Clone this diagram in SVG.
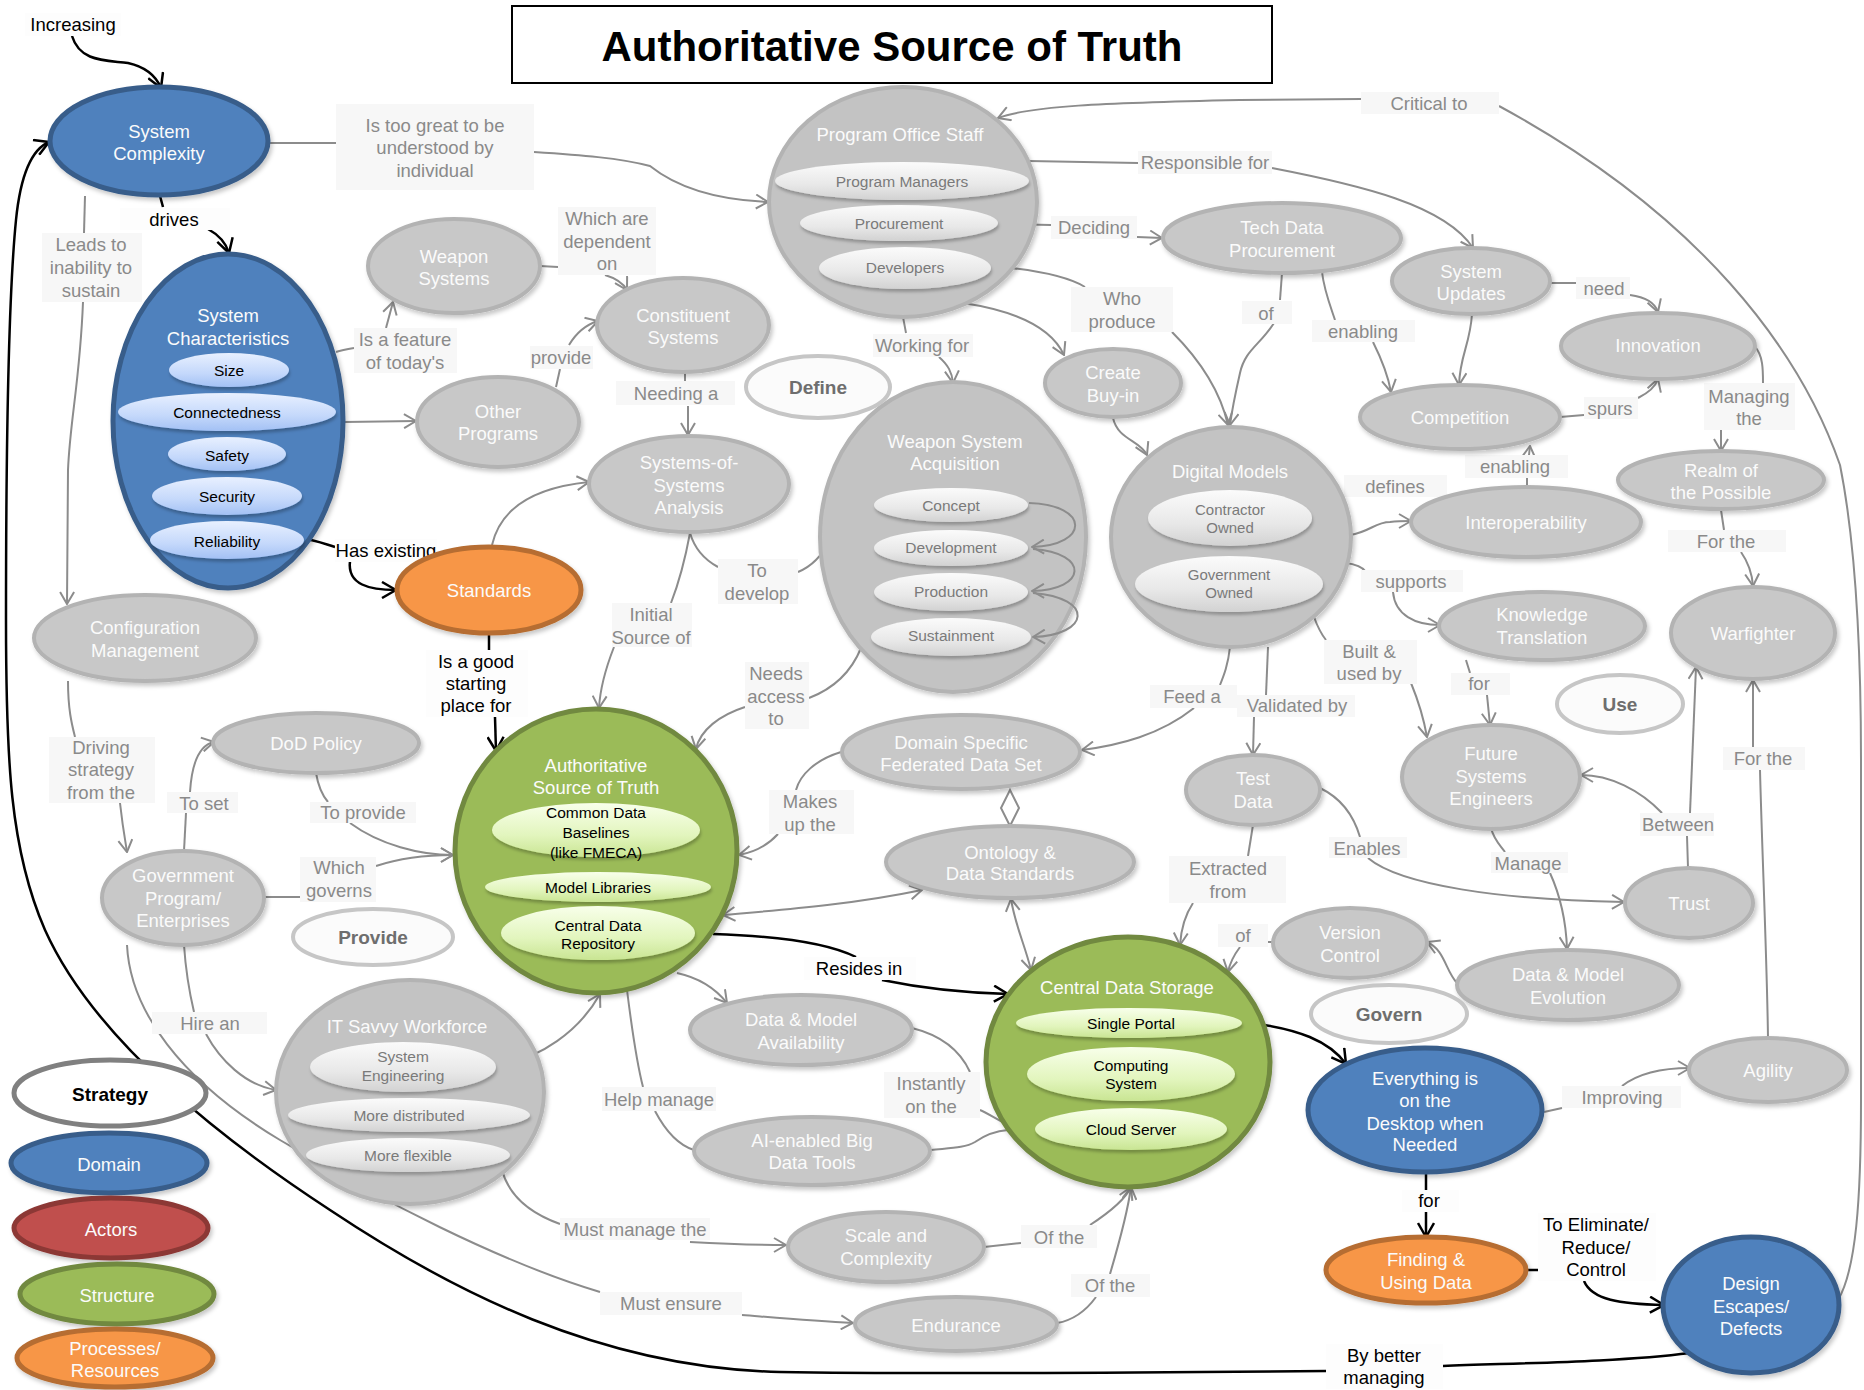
<svg xmlns="http://www.w3.org/2000/svg" width="1864" height="1390" viewBox="0 0 1864 1390">
<defs>
<style>
text{font-family:"Liberation Sans",Arial,sans-serif;text-anchor:middle;dominant-baseline:central}
.nt{fill:#fbfbfb;font-size:18.5px}
.it{fill:#7a7a7a;font-size:15.5px}
.bt{fill:#000;font-size:15.5px}
.lt{fill:#8a8a8a;font-size:18.5px}
.lk{fill:#000;font-size:18.5px}
.st{fill:#6e6e6e;font-size:19px;font-weight:bold}
.lb{fill:#f7f7f7}
.lw{fill:#fdfdfd}
.gn{fill:#c8c8c8;stroke:#b3b3b3;stroke-width:4;filter:url(#sh)}
.gc{fill:#c3c3c3;stroke:#b3b3b3;stroke-width:4;filter:url(#sh)}
.bn{fill:#4f81bd;stroke:#385d8a;stroke-width:5;filter:url(#sh)}
.on{fill:#f79646;stroke:#b66d31;stroke-width:5;filter:url(#sh)}
.grn{fill:#9bbb59;stroke:#71893f;stroke-width:5;filter:url(#sh)}
.rn{fill:#c0504d;stroke:#8c3836;stroke-width:5;filter:url(#sh)}
.sn{fill:#fbfbfb;stroke:#c6c6c6;stroke-width:4}
.ig{fill:url(#gg);filter:url(#sh2)}
.ib{fill:url(#gb);filter:url(#sh2)}
.ie{fill:url(#ge);filter:url(#sh2)}
.c{fill:none;stroke:#8c8c8c;stroke-width:2}
.ca{fill:none;stroke:#8c8c8c;stroke-width:2;marker-end:url(#ag)}
.cb{fill:none;stroke:#8c8c8c;stroke-width:2;marker-start:url(#ag);marker-end:url(#ag)}
.k{fill:none;stroke:#000;stroke-width:2.5}
.ka{fill:none;stroke:#000;stroke-width:2.5;marker-end:url(#ak)}
</style>
<marker id="ag" viewBox="0 0 14 16" refX="13" refY="8" markerWidth="14" markerHeight="16" markerUnits="userSpaceOnUse" orient="auto-start-reverse">
<path d="M1,1 L13,8 L1,15" fill="none" stroke="#8c8c8c" stroke-width="2"/>
</marker>
<marker id="ak" viewBox="0 0 16 18" refX="15" refY="9" markerWidth="16" markerHeight="18" markerUnits="userSpaceOnUse" orient="auto">
<path d="M1,1 L15,9 L1,17" fill="none" stroke="#000" stroke-width="2.5"/>
</marker>
<linearGradient id="gg" x1="0" y1="0" x2="0" y2="1"><stop offset="0" stop-color="#fbfbfb"/><stop offset="0.6" stop-color="#e8e8e8"/><stop offset="1" stop-color="#d2d2d2"/></linearGradient>
<linearGradient id="gb" x1="0" y1="0" x2="0" y2="1"><stop offset="0" stop-color="#e8f0ff"/><stop offset="0.6" stop-color="#c4d8fb"/><stop offset="1" stop-color="#a3c1f4"/></linearGradient>
<linearGradient id="ge" x1="0" y1="0" x2="0" y2="1"><stop offset="0" stop-color="#f8ffea"/><stop offset="0.6" stop-color="#e2f5bd"/><stop offset="1" stop-color="#c9e593"/></linearGradient>
<filter id="sh" x="-10%" y="-10%" width="125%" height="125%"><feDropShadow dx="2" dy="3" stdDeviation="2" flood-color="#000" flood-opacity="0.22"/></filter>
<filter id="sh2" x="-10%" y="-20%" width="125%" height="150%"><feDropShadow dx="1" dy="3" stdDeviation="1.5" flood-color="#000" flood-opacity="0.25"/></filter>
</defs>
<rect width="1864" height="1390" fill="#ffffff"/>

<g id="title">
<rect x="512" y="6" width="760" height="77" fill="#fff" stroke="#000" stroke-width="2"/>
<text x="892" y="46" style="font-size:42px;font-weight:bold;fill:#000">Authoritative Source of Truth</text>
</g>

<g id="connectors">
<path class="ka" d="M72,36 C80,62 105,60 128,63 C146,67 156,76 161,88"/>
<path class="k" d="M160,196 L163,207"/>
<path class="ka" d="M208,229 C219,235 226,243 229,253"/>
<path class="k" d="M301,538 C315,540 325,544 335,547"/>
<path class="ka" d="M350,561 C347,585 370,590 396,590"/>
<path class="k" d="M489,633 L489,650"/>
<path class="ka" d="M495,717 L496,751"/>
<path class="k" d="M713,934 C780,936 830,944 856,957"/>
<path class="ka" d="M882,980 C930,990 970,993 1008,994"/>
<path class="ka" d="M1242,1022 C1300,1028 1330,1042 1346,1064"/>
<path class="k" d="M1426,1172 L1426,1190"/>
<path class="ka" d="M1426,1212 L1426,1237"/>
<path class="k" d="M1527,1270 L1540,1270"/>
<path class="ka" d="M1584,1281 C1592,1300 1620,1304 1664,1305"/>
<path class="k" d="M1690,1353 C1620,1362 1520,1363 1443,1366"/>
<path class="ka" d="M1326,1371 C1100,1373 900,1374 780,1372 C600,1368 450,1290 330,1210 C200,1125 90,1030 45,930 C10,850 6,760 6,620 C6,450 8,300 16,220 C20,180 30,150 49,142"/>
<path class="c" d="M85,196 L84,233"/>
<path class="ca" d="M83,302 C80,380 70,420 68,470 L67,604"/>
<path class="c" d="M68,681 C68,710 72,725 75,737"/>
<path class="ca" d="M120,803 C123,830 126,845 127,852"/>
<path class="c" d="M184,851 L186,813"/>
<path class="ca" d="M190,792 C192,760 200,745 214,742"/>
<path class="c" d="M316,773 C318,785 322,795 328,802"/>
<path class="ca" d="M350,823 C380,845 420,855 453,855"/>
<path class="c" d="M264,897 L300,897"/>
<path class="ca" d="M376,866 C400,858 430,855 453,855"/>
<path class="c" d="M184,945 C186,975 190,995 194,1012"/>
<path class="ca" d="M206,1034 C220,1060 245,1085 276,1090"/>
<path class="c" d="M127,945 C130,1010 180,1080 280,1140 C380,1200 500,1262 600,1292"/>
<path class="ca" d="M742,1315 C780,1318 815,1321 853,1323"/>
<path class="ca" d="M496,1065 C540,1060 580,1030 600,994"/>
<path class="c" d="M502,1170 C510,1200 535,1215 560,1224"/>
<path class="ca" d="M690,1242 C725,1244 760,1245 786,1245"/>
<path class="c" d="M984,1247 L1021,1243"/>
<path class="ca" d="M1090,1225 C1110,1212 1125,1200 1131,1187"/>
<path class="c" d="M1057,1323 C1075,1320 1088,1308 1096,1297"/>
<path class="ca" d="M1110,1274 C1120,1240 1128,1210 1131,1187"/>
<path class="c" d="M268,143 L336,143"/>
<path class="ca" d="M534,152 C580,155 620,158 650,166 C680,190 720,200 768,202"/>
<path class="c" d="M1838,1300 C1856,1270 1861,1200 1861,1100 L1861,760 C1861,640 1855,540 1840,465 C1800,350 1700,215 1499,106"/>
<path class="ca" d="M1361,99 L1240,100 C1100,103 1030,106 998,118"/>
<path class="c" d="M1029,161 L1138,163"/>
<path class="ca" d="M1272,168 C1360,185 1445,205 1473,248"/>
<path class="c" d="M998,224 L1051,225"/>
<path class="ca" d="M1137,237 L1162,238"/>
<path class="c" d="M990,266 C1040,270 1070,278 1085,287"/>
<path class="ca" d="M1172,332 C1200,360 1220,390 1228,425"/>
<path class="c" d="M903,317 L906,333"/>
<path class="ca" d="M939,357 C948,365 952,372 953,383"/>
<path class="ca" d="M963,303 C1010,310 1050,325 1064,355"/>
<path class="ca" d="M1113,418 C1118,440 1140,440 1147,455"/>
<path class="c" d="M1282,273 L1280,300"/>
<path class="ca" d="M1274,323 C1260,345 1245,350 1240,373 C1235,395 1232,410 1230,425"/>
<path class="c" d="M1322,272 C1324,290 1330,305 1335,320"/>
<path class="ca" d="M1373,342 C1382,360 1388,375 1391,392"/>
<path class="c" d="M1549,283 L1576,283"/>
<path class="ca" d="M1630,295 C1645,297 1655,303 1658,312"/>
<path class="ca" d="M1472,314 C1470,345 1460,355 1459,385"/>
<path class="c" d="M1560,417 L1584,415"/>
<path class="ca" d="M1638,398 C1650,392 1656,385 1658,379"/>
<path class="c" d="M1755,347 C1763,355 1763,370 1763,383"/>
<path class="ca" d="M1721,430 L1721,451"/>
<path class="c" d="M1527,487 L1527,478"/>
<path class="ca" d="M1529,455 L1530,446"/>
<path class="ca" d="M1350,535 C1370,532 1375,522 1390,522 C1398,521 1404,521 1411,521"/>
<path class="c" d="M1345,563 C1355,564 1362,566 1366,572"/>
<path class="ca" d="M1393,592 C1395,615 1415,625 1440,625"/>
<path class="c" d="M1466,660 L1470,673"/>
<path class="ca" d="M1487,695 L1490,725"/>
<path class="c" d="M1314,617 C1318,628 1322,635 1326,640"/>
<path class="ca" d="M1411,683 C1418,700 1424,720 1427,737"/>
<path class="c" d="M1268,647 L1266,695"/>
<path class="ca" d="M1254,717 L1253,755"/>
<path class="c" d="M1230,647 C1228,665 1224,675 1220,685"/>
<path class="ca" d="M1194,708 C1160,735 1120,745 1082,750"/>
<path class="c" d="M1010,790 L1010,826"/>
<polygon points="1010,790 1019,808 1010,826 1001,808" fill="#fff" stroke="#8c8c8c" stroke-width="2"/>
<path class="c" d="M841,752 C815,760 800,775 796,790"/>
<path class="ca" d="M778,834 C768,845 755,852 739,855"/>
<path class="cb" d="M922,890 C850,905 780,910 723,915"/>
<path class="cb" d="M1011,899 C1015,925 1025,945 1031,970"/>
<path class="c" d="M1253,825 L1248,856"/>
<path class="ca" d="M1193,903 C1185,915 1181,930 1180,945"/>
<path class="c" d="M1320,788 C1345,800 1355,820 1360,837"/>
<path class="ca" d="M1368,858 C1400,885 1500,900 1624,902"/>
<path class="c" d="M1688,868 L1687,836"/>
<path class="ca" d="M1662,813 C1640,790 1610,775 1581,775"/>
<path class="ca" d="M1690,813 C1692,760 1694,720 1696,667"/>
<path class="c" d="M1721,510 L1724,530"/>
<path class="ca" d="M1741,552 C1748,562 1752,572 1753,586"/>
<path class="c" d="M1768,1038 C1767,960 1762,850 1760,770"/>
<path class="ca" d="M1753,747 L1753,680"/>
<path class="c" d="M1491,828 C1494,840 1500,845 1505,852"/>
<path class="ca" d="M1550,873 C1560,895 1566,920 1567,949"/>
<path class="ca" d="M1457,983 C1445,970 1445,950 1427,942"/>
<path class="c" d="M1273,942 L1268,942"/>
<path class="ca" d="M1240,947 C1234,955 1230,962 1228,972"/>
<path class="c" d="M1544,1112 L1562,1108"/>
<path class="ca" d="M1622,1086 C1640,1072 1665,1068 1690,1068"/>
<path class="c" d="M336,352 C342,350 348,349 354,348"/>
<path class="ca" d="M386,328 L393,302"/>
<path class="ca" d="M345,422 L416,421"/>
<path class="c" d="M556,387 L560,369"/>
<path class="ca" d="M569,345 C575,335 585,325 598,321"/>
<path class="c" d="M540,266 L558,267"/>
<path class="ca" d="M605,275 C615,278 623,283 627,290"/>
<path class="c" d="M685,372 L685,381"/>
<path class="ca" d="M688,406 L688,435"/>
<path class="ca" d="M492,545 C500,510 530,488 589,482"/>
<path class="c" d="M690,533 C695,550 705,560 718,567"/>
<path class="ca" d="M798,572 C815,565 825,550 830,540 C840,515 855,505 873,504"/>
<path class="c" d="M690,533 C685,560 678,585 671,603"/>
<path class="ca" d="M614,647 C605,670 600,690 599,708"/>
<path class="c" d="M861,648 C850,675 830,690 809,698"/>
<path class="ca" d="M745,707 C720,715 700,730 696,749"/>
<path class="ca" d="M677,973 C700,978 715,988 727,1003"/>
<path class="c" d="M912,1028 C940,1035 960,1050 970,1072"/>
<path class="c" d="M980,1110 C985,1112 995,1118 1006,1124"/>
<path class="c" d="M931,1150 C950,1148 965,1148 975,1142 C985,1135 995,1131 1008,1130"/>
<path class="c" d="M627,990 C632,1030 636,1060 643,1087"/>
<path class="c" d="M655,1111 C665,1130 678,1145 694,1150"/>
</g>

<g id="labels">
<g id="l-increasing"><rect class="lw" x="25" y="13" width="96" height="23"/><text class="lk" x="73" y="24">Increasing</text></g>
<g id="l-drives"><rect class="lw" x="120" y="208" width="110" height="22"/><text class="lk" x="174" y="219">drives</text></g>
<g id="l-has-existing"><rect class="lw" x="335" y="539" width="102" height="23"/><text class="lk" x="386" y="550">Has existing</text></g>
<g id="l-good-start"><rect class="lw" x="426" y="650" width="102" height="67"/><text class="lk" x="476" y="661">Is a good</text><text class="lk" x="476" y="683">starting</text><text class="lk" x="476" y="705">place for</text></g>
<g id="l-resides"><rect class="lw" x="804" y="957" width="112" height="23"/><text class="lk" x="859" y="968">Resides in</text></g>
<g id="l-for-black"><rect class="lw" x="1402" y="1190" width="57" height="22"/><text class="lk" x="1429" y="1200">for</text></g>
<g id="l-eliminate"><rect class="lw" x="1538" y="1213" width="118" height="68"/><text class="lk" x="1596" y="1224">To Eliminate/</text><text class="lk" x="1596" y="1247">Reduce/</text><text class="lk" x="1596" y="1269">Control</text></g>
<g id="l-better"><rect class="lw" x="1326" y="1344" width="117" height="45"/><text class="lk" x="1384" y="1355">By better</text><text class="lk" x="1384" y="1377">managing</text></g>
<g id="l-too-great"><rect class="lb" x="336" y="104" width="198" height="86"/><text class="lt" x="435" y="125">Is too great to be</text><text class="lt" x="435" y="147">understood by</text><text class="lt" x="435" y="170">individual</text></g>
<g id="l-leads"><rect class="lb" x="42" y="233" width="100" height="69"/><text class="lt" x="91" y="244">Leads to</text><text class="lt" x="91" y="267">inability to</text><text class="lt" x="91" y="290">sustain</text></g>
<g id="l-feature"><rect class="lb" x="354" y="328" width="103" height="45"/><text class="lt" x="405" y="339">Is a feature</text><text class="lt" x="405" y="362">of today's</text></g>
<g id="l-dependent"><rect class="lb" x="558" y="207" width="98" height="68"/><text class="lt" x="607" y="218">Which are</text><text class="lt" x="607" y="241">dependent</text><text class="lt" x="607" y="263">on</text></g>
<g id="l-provide"><rect class="lb" x="530" y="346" width="63" height="23"/><text class="lt" x="561" y="357">provide</text></g>
<g id="l-needing"><rect class="lb" x="616" y="381" width="119" height="24"/><text class="lt" x="676" y="393">Needing a</text></g>
<g id="l-working"><rect class="lb" x="873" y="334" width="100" height="23"/><text class="lt" x="922" y="345">Working for</text></g>
<g id="l-deciding"><rect class="lb" x="1051" y="216" width="86" height="23"/><text class="lt" x="1094" y="227">Deciding</text></g>
<g id="l-responsible"><rect class="lb" x="1138" y="151" width="134" height="23"/><text class="lt" x="1205" y="162">Responsible for</text></g>
<g id="l-critical"><rect class="lb" x="1361" y="92" width="138" height="22"/><text class="lt" x="1429" y="103">Critical to</text></g>
<g id="l-who"><rect class="lb" x="1071" y="287" width="102" height="45"/><text class="lt" x="1122" y="298">Who</text><text class="lt" x="1122" y="321">produce</text></g>
<g id="l-of1"><rect class="lb" x="1242" y="301" width="50" height="23"/><text class="lt" x="1266" y="313">of</text></g>
<g id="l-enabling1"><rect class="lb" x="1312" y="320" width="103" height="22"/><text class="lt" x="1363" y="331">enabling</text></g>
<g id="l-need"><rect class="lb" x="1576" y="277" width="54" height="22"/><text class="lt" x="1604" y="288">need</text></g>
<g id="l-spurs"><rect class="lb" x="1584" y="397" width="54" height="22"/><text class="lt" x="1610" y="408">spurs</text></g>
<g id="l-managing"><rect class="lb" x="1704" y="383" width="91" height="47"/><text class="lt" x="1749" y="396">Managing</text><text class="lt" x="1749" y="418">the</text></g>
<g id="l-enabling2"><rect class="lb" x="1465" y="455" width="103" height="23"/><text class="lt" x="1515" y="466">enabling</text></g>
<g id="l-defines"><rect class="lb" x="1344" y="475" width="103" height="22"/><text class="lt" x="1395" y="486">defines</text></g>
<g id="l-forthe1"><rect class="lb" x="1668" y="530" width="118" height="22"/><text class="lt" x="1726" y="541">For the</text></g>
<g id="l-supports"><rect class="lb" x="1361" y="570" width="102" height="22"/><text class="lt" x="1411" y="581">supports</text></g>
<g id="l-built"><rect class="lb" x="1324" y="640" width="93" height="44"/><text class="lt" x="1369" y="651">Built &amp;</text><text class="lt" x="1369" y="673">used by</text></g>
<g id="l-for"><rect class="lb" x="1451" y="673" width="59" height="22"/><text class="lt" x="1479" y="683">for</text></g>
<g id="l-feed"><rect class="lb" x="1150" y="685" width="87" height="23"/><text class="lt" x="1192" y="696">Feed a</text></g>
<g id="l-validated"><rect class="lb" x="1237" y="695" width="118" height="22"/><text class="lt" x="1297" y="705">Validated by</text></g>
<g id="l-between"><rect class="lb" x="1640" y="813" width="74" height="23"/><text class="lt" x="1678" y="824">Between</text></g>
<g id="l-forthe2"><rect class="lb" x="1723" y="747" width="82" height="23"/><text class="lt" x="1763" y="758">For the</text></g>
<g id="l-enables"><rect class="lb" x="1329" y="837" width="78" height="21"/><text class="lt" x="1367" y="848">Enables</text></g>
<g id="l-manage"><rect class="lb" x="1491" y="852" width="77" height="21"/><text class="lt" x="1528" y="863">Manage</text></g>
<g id="l-extracted"><rect class="lb" x="1169" y="856" width="117" height="47"/><text class="lt" x="1228" y="868">Extracted</text><text class="lt" x="1228" y="891">from</text></g>
<g id="l-of2"><rect class="lb" x="1218" y="924" width="50" height="23"/><text class="lt" x="1243" y="935">of</text></g>
<g id="l-improving"><rect class="lb" x="1562" y="1086" width="119" height="22"/><text class="lt" x="1622" y="1097">Improving</text></g>
<g id="l-develop"><rect class="lb" x="718" y="559" width="80" height="45"/><text class="lt" x="757" y="570">To</text><text class="lt" x="757" y="593">develop</text></g>
<g id="l-initial"><rect class="lb" x="612" y="603" width="80" height="44"/><text class="lt" x="651" y="614">Initial</text><text class="lt" x="651" y="637">Source of</text></g>
<g id="l-needs"><rect class="lb" x="745" y="662" width="64" height="67"/><text class="lt" x="776" y="673">Needs</text><text class="lt" x="776" y="696">access</text><text class="lt" x="776" y="718">to</text></g>
<g id="l-makes"><rect class="lb" x="769" y="790" width="85" height="44"/><text class="lt" x="810" y="801">Makes</text><text class="lt" x="810" y="824">up the</text></g>
<g id="l-driving"><rect class="lb" x="49" y="737" width="106" height="66"/><text class="lt" x="101" y="747">Driving</text><text class="lt" x="101" y="769">strategy</text><text class="lt" x="101" y="792">from the</text></g>
<g id="l-toset"><rect class="lb" x="167" y="792" width="71" height="21"/><text class="lt" x="204" y="803">To set</text></g>
<g id="l-toprovide"><rect class="lb" x="310" y="802" width="106" height="21"/><text class="lt" x="363" y="812">To provide</text></g>
<g id="l-governs"><rect class="lb" x="300" y="857" width="76" height="45"/><text class="lt" x="339" y="867">Which</text><text class="lt" x="339" y="890">governs</text></g>
<g id="l-hire"><rect class="lb" x="152" y="1012" width="115" height="22"/><text class="lt" x="210" y="1023">Hire an</text></g>
<g id="l-instantly"><rect class="lb" x="884" y="1072" width="96" height="46"/><text class="lt" x="931" y="1083">Instantly</text><text class="lt" x="931" y="1106">on the</text></g>
<g id="l-help"><rect class="lb" x="602" y="1087" width="114" height="24"/><text class="lt" x="659" y="1099">Help manage</text></g>
<g id="l-mustmanage"><rect class="lb" x="560" y="1218" width="150" height="22"/><text class="lt" x="635" y="1229">Must manage the</text></g>
<g id="l-mustensure"><rect class="lb" x="600" y="1292" width="142" height="23"/><text class="lt" x="671" y="1303">Must ensure</text></g>
<g id="l-ofthe1"><rect class="lb" x="1021" y="1225" width="76" height="23"/><text class="lt" x="1059" y="1237">Of the</text></g>
<g id="l-ofthe2"><rect class="lb" x="1071" y="1274" width="79" height="23"/><text class="lt" x="1110" y="1285">Of the</text></g>
</g>

<g id="n-system-complexity"><ellipse class="bn" cx="159" cy="141" rx="109" ry="54"/><text class="nt" x="159" y="131">System</text><text class="nt" x="159" y="153">Complexity</text></g>
<g id="n-system-characteristics"><ellipse class="bn" cx="228" cy="421" rx="115" ry="167"/><text class="nt" x="228" y="315">System</text><text class="nt" x="228" y="338">Characteristics</text>
<ellipse class="ib" cx="229" cy="370" rx="60" ry="17"/><text class="bt" x="229" y="370">Size</text>
<ellipse class="ib" cx="227" cy="412" rx="109" ry="19"/><text class="bt" x="227" y="412">Connectedness</text>
<ellipse class="ib" cx="227" cy="454" rx="59" ry="17"/><text class="bt" x="227" y="455">Safety</text>
<ellipse class="ib" cx="227" cy="496" rx="75" ry="19"/><text class="bt" x="227" y="496">Security</text>
<ellipse class="ib" cx="227" cy="540" rx="77" ry="19"/><text class="bt" x="227" y="541">Reliability</text></g>
<g id="n-configuration-management"><ellipse class="gn" cx="145" cy="638" rx="111" ry="43"/><text class="nt" x="145" y="627">Configuration</text><text class="nt" x="145" y="650">Management</text></g>
<g id="n-dod-policy"><ellipse class="gn" cx="316" cy="743" rx="103" ry="30"/><text class="nt" x="316" y="743">DoD Policy</text></g>
<g id="n-government-program"><ellipse class="gn" cx="183" cy="898" rx="81" ry="47"/><text class="nt" x="183" y="875">Government</text><text class="nt" x="183" y="898">Program/</text><text class="nt" x="183" y="920">Enterprises</text></g>
<g id="n-weapon-systems"><ellipse class="gn" cx="454" cy="266" rx="86" ry="47"/><text class="nt" x="454" y="256">Weapon</text><text class="nt" x="454" y="278">Systems</text></g>
<g id="n-other-programs"><ellipse class="gn" cx="498" cy="422" rx="81" ry="45"/><text class="nt" x="498" y="411">Other</text><text class="nt" x="498" y="433">Programs</text></g>
<g id="n-constituent-systems"><ellipse class="gn" cx="683" cy="325" rx="86" ry="47"/><text class="nt" x="683" y="315">Constituent</text><text class="nt" x="683" y="337">Systems</text></g>
<g id="n-sos-analysis"><ellipse class="gn" cx="689" cy="484" rx="100" ry="48"/><text class="nt" x="689" y="462">Systems-of-</text><text class="nt" x="689" y="485">Systems</text><text class="nt" x="689" y="507">Analysis</text></g>
<g id="n-standards"><ellipse class="on" cx="489" cy="590" rx="92" ry="43"/><text class="nt" x="489" y="590">Standards</text></g>
<g id="n-authoritative-source"><ellipse class="grn" cx="596" cy="851" rx="141" ry="142"/><text class="nt" x="596" y="765">Authoritative</text><text class="nt" x="596" y="787">Source of Truth</text>
<ellipse class="ie" cx="596" cy="830" rx="104" ry="27"/><text class="bt" x="596" y="812">Common Data</text><text class="bt" x="596" y="832">Baselines</text><text class="bt" x="596" y="852">(like FMECA)</text>
<ellipse class="ie" cx="598" cy="887" rx="113" ry="15"/><text class="bt" x="598" y="887">Model Libraries</text>
<ellipse class="ie" cx="598" cy="933" rx="97" ry="27"/><text class="bt" x="598" y="925">Central Data</text><text class="bt" x="598" y="943">Repository</text></g>
<g id="n-program-office-staff"><ellipse class="gc" cx="903" cy="202" rx="134" ry="115"/><text class="nt" x="900" y="134">Program Office Staff</text>
<ellipse class="ig" cx="902" cy="181" rx="127" ry="19"/><text class="it" x="902" y="181">Program Managers</text>
<ellipse class="ig" cx="899" cy="223" rx="99" ry="18"/><text class="it" x="899" y="223">Procurement</text>
<ellipse class="ig" cx="905" cy="268" rx="86" ry="21"/><text class="it" x="905" y="267">Developers</text></g>
<g id="n-weapon-system-acquisition"><ellipse class="gc" cx="953" cy="537" rx="133" ry="155"/><text class="nt" x="955" y="441">Weapon System</text><text class="nt" x="955" y="463">Acquisition</text>
<ellipse class="ig" cx="951" cy="505" rx="77" ry="17"/><text class="it" x="951" y="505">Concept</text>
<ellipse class="ig" cx="951" cy="548" rx="77" ry="18"/><text class="it" x="951" y="547">Development</text>
<ellipse class="ig" cx="951" cy="592" rx="77" ry="19"/><text class="it" x="951" y="591">Production</text>
<ellipse class="ig" cx="951" cy="637" rx="80" ry="19"/><text class="it" x="951" y="635">Sustainment</text></g>
<g id="n-create-buy-in"><ellipse class="gn" cx="1113" cy="383" rx="68" ry="34"/><text class="nt" x="1113" y="372">Create</text><text class="nt" x="1113" y="395">Buy-in</text></g>
<g id="n-define"><ellipse class="sn" cx="818" cy="387" rx="72" ry="31"/><text class="st" x="818" y="387">Define</text></g>
<g id="n-tech-data-procurement"><ellipse class="gn" cx="1282" cy="238" rx="119" ry="35"/><text class="nt" x="1282" y="227">Tech Data</text><text class="nt" x="1282" y="250">Procurement</text></g>
<g id="n-system-updates"><ellipse class="gn" cx="1471" cy="281" rx="79" ry="33"/><text class="nt" x="1471" y="271">System</text><text class="nt" x="1471" y="293">Updates</text></g>
<g id="n-innovation"><ellipse class="gn" cx="1658" cy="346" rx="97" ry="33"/><text class="nt" x="1658" y="345">Innovation</text></g>
<g id="n-competition"><ellipse class="gn" cx="1460" cy="417" rx="100" ry="32"/><text class="nt" x="1460" y="417">Competition</text></g>
<g id="n-realm"><ellipse class="gn" cx="1721" cy="480" rx="103" ry="29"/><text class="nt" x="1721" y="470">Realm of</text><text class="nt" x="1721" y="492">the Possible</text></g>
<g id="n-interoperability"><ellipse class="gn" cx="1526" cy="522" rx="115" ry="35"/><text class="nt" x="1526" y="522">Interoperability</text></g>
<g id="n-digital-models"><ellipse class="gc" cx="1231" cy="537" rx="120" ry="110"/><text class="nt" x="1230" y="471">Digital Models</text>
<ellipse class="ig" cx="1230" cy="518" rx="82" ry="28"/><text class="it" x="1230" y="509" style="font-size:15px">Contractor</text><text class="it" x="1230" y="527" style="font-size:15px">Owned</text>
<ellipse class="ig" cx="1229" cy="584" rx="94" ry="28"/><text class="it" x="1229" y="574" style="font-size:15px">Government</text><text class="it" x="1229" y="592" style="font-size:15px">Owned</text></g>
<g id="n-knowledge-translation"><ellipse class="gn" cx="1542" cy="626" rx="103" ry="34"/><text class="nt" x="1542" y="614">Knowledge</text><text class="nt" x="1542" y="637">Translation</text></g>
<g id="n-warfighter"><ellipse class="gn" cx="1753" cy="633" rx="82" ry="46"/><text class="nt" x="1753" y="633">Warfighter</text></g>
<g id="n-use"><ellipse class="sn" cx="1620" cy="704" rx="63" ry="29"/><text class="st" x="1620" y="704">Use</text></g>
<g id="n-future-systems-engineers"><ellipse class="gn" cx="1491" cy="777" rx="89" ry="52"/><text class="nt" x="1491" y="753">Future</text><text class="nt" x="1491" y="776">Systems</text><text class="nt" x="1491" y="798">Engineers</text></g>
<g id="n-test-data"><ellipse class="gn" cx="1253" cy="790" rx="67" ry="35"/><text class="nt" x="1253" y="778">Test</text><text class="nt" x="1253" y="801">Data</text></g>
<g id="n-domain-specific"><ellipse class="gn" cx="961" cy="752" rx="119" ry="37"/><text class="nt" x="961" y="742">Domain Specific</text><text class="nt" x="961" y="764">Federated Data Set</text></g>
<g id="n-ontology"><ellipse class="gn" cx="1010" cy="862" rx="124" ry="36"/><text class="nt" x="1010" y="852">Ontology &amp;</text><text class="nt" x="1010" y="873">Data Standards</text></g>
<g id="n-trust"><ellipse class="gn" cx="1689" cy="903" rx="64" ry="35"/><text class="nt" x="1689" y="903">Trust</text></g>
<g id="n-version-control"><ellipse class="gn" cx="1350" cy="943" rx="77" ry="35"/><text class="nt" x="1350" y="932">Version</text><text class="nt" x="1350" y="955">Control</text></g>
<g id="n-data-model-evolution"><ellipse class="gn" cx="1568" cy="985" rx="111" ry="35"/><text class="nt" x="1568" y="974">Data &amp; Model</text><text class="nt" x="1568" y="997">Evolution</text></g>
<g id="n-govern"><ellipse class="sn" cx="1389" cy="1014" rx="78" ry="29"/><text class="st" x="1389" y="1014">Govern</text></g>
<g id="n-provide"><ellipse class="sn" cx="373" cy="937" rx="80" ry="28"/><text class="st" x="373" y="937">Provide</text></g>
<g id="n-it-savvy-workforce"><ellipse class="gc" cx="410" cy="1092" rx="134" ry="112"/><text class="nt" x="407" y="1026">IT Savvy Workforce</text>
<ellipse class="ig" cx="403" cy="1067" rx="93" ry="25"/><text class="it" x="403" y="1056">System</text><text class="it" x="403" y="1075">Engineering</text>
<ellipse class="ig" cx="409" cy="1115" rx="121" ry="17"/><text class="it" x="409" y="1115">More distributed</text>
<ellipse class="ig" cx="408" cy="1155" rx="102" ry="17"/><text class="it" x="408" y="1155">More flexible</text></g>
<g id="n-data-model-availability"><ellipse class="gn" cx="801" cy="1030" rx="111" ry="35"/><text class="nt" x="801" y="1019">Data &amp; Model</text><text class="nt" x="801" y="1042">Availability</text></g>
<g id="n-ai-tools"><ellipse class="gn" cx="812" cy="1151" rx="118" ry="34"/><text class="nt" x="812" y="1140">AI-enabled Big</text><text class="nt" x="812" y="1162">Data Tools</text></g>
<g id="n-central-data-storage"><ellipse class="grn" cx="1128" cy="1062" rx="142" ry="125"/><text class="nt" x="1127" y="987">Central Data Storage</text>
<ellipse class="ie" cx="1129" cy="1023" rx="113" ry="15"/><text class="bt" x="1131" y="1023">Single Portal</text>
<ellipse class="ie" cx="1131" cy="1074" rx="104" ry="27"/><text class="bt" x="1131" y="1065">Computing</text><text class="bt" x="1131" y="1083">System</text>
<ellipse class="ie" cx="1131" cy="1129" rx="96" ry="21"/><text class="bt" x="1131" y="1129">Cloud Server</text></g>
<g id="n-everything-desktop"><ellipse class="bn" cx="1425" cy="1110" rx="117" ry="62"/><text class="nt" x="1425" y="1078">Everything is</text><text class="nt" x="1425" y="1100">on the</text><text class="nt" x="1425" y="1123">Desktop when</text><text class="nt" x="1425" y="1144">Needed</text></g>
<g id="n-agility"><ellipse class="gn" cx="1768" cy="1070" rx="79" ry="32"/><text class="nt" x="1768" y="1070">Agility</text></g>
<g id="n-finding-using-data"><ellipse class="on" cx="1426" cy="1270" rx="100" ry="33"/><text class="nt" x="1426" y="1259">Finding &amp;</text><text class="nt" x="1426" y="1282">Using Data</text></g>
<g id="n-design-escapes"><ellipse class="bn" cx="1751" cy="1305" rx="88" ry="68"/><text class="nt" x="1751" y="1283">Design</text><text class="nt" x="1751" y="1306">Escapes/</text><text class="nt" x="1751" y="1328">Defects</text></g>
<g id="n-scale-complexity"><ellipse class="gn" cx="886" cy="1247" rx="98" ry="35"/><text class="nt" x="886" y="1235">Scale and</text><text class="nt" x="886" y="1258">Complexity</text></g>
<g id="n-endurance"><ellipse class="gn" cx="956" cy="1324" rx="101" ry="27"/><text class="nt" x="956" y="1325">Endurance</text></g>

<g id="legend-strategy"><ellipse cx="110" cy="1093" rx="96" ry="33" fill="#fff" stroke="#808080" stroke-width="5"/><text x="110" y="1094" style="font-size:19px;font-weight:bold;fill:#000">Strategy</text></g>
<g id="legend-domain"><ellipse class="bn" cx="109" cy="1163" rx="98" ry="30"/><text class="nt" x="109" y="1164">Domain</text></g>
<g id="legend-actors"><ellipse class="rn" cx="111" cy="1228" rx="97" ry="30"/><text class="nt" x="111" y="1229">Actors</text></g>
<g id="legend-structure"><ellipse class="grn" cx="117" cy="1294" rx="97" ry="30"/><text class="nt" x="117" y="1295">Structure</text></g>
<g id="legend-processes"><ellipse class="on" cx="115" cy="1358" rx="98" ry="29"/><text class="nt" x="115" y="1348">Processes/</text><text class="nt" x="115" y="1370">Resources</text></g>

<g id="connectors-lifecycle">
<path class="ca" d="M1029,503 C1090,505 1090,545 1032,547"/>
<path class="ca" d="M1033,549 C1090,553 1087,590 1032,591"/>
<path class="ca" d="M1033,593 C1095,598 1090,635 1033,637"/>
</g>
</svg>
